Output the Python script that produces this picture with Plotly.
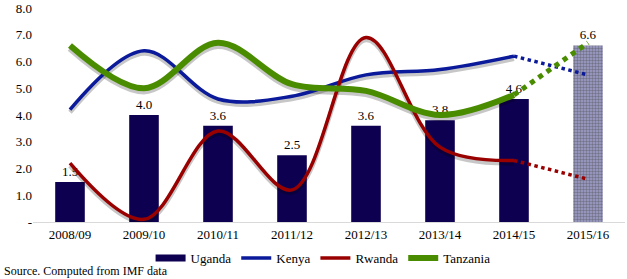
import plotly.graph_objects as go

years = ["2008/09", "2009/10", "2010/11", "2011/12", "2012/13", "2013/14", "2014/15", "2015/16"]
uganda = [1.5, 4.0, 3.6, 2.5, 3.6, 3.8, 4.6, 6.6]
kenya = [4.2, 6.4, 4.6, 4.7, 5.5, 5.7, 6.2, 5.5]
rwanda = [2.2, 0.1, 3.4, 1.2, 6.9, 2.8, 2.3, 1.6]
tanzania = [6.6, 5.0, 6.7, 5.15, 4.9, 4.0, 4.75, 6.7]
ytick_vals = [0, 1, 2, 3, 4, 5, 6, 7, 8]
ytick_text = ["-", "1.0", "2.0", "3.0", "4.0", "5.0", "6.0", "7.0", "8.0"]

navy = "#0d0050"
kcol = "#0a1a9a"
rcol = "#990000"
tcol = "#4a8c00"
font = "Liberation Serif"

fig = go.Figure()
n_solid = 7

fig.add_trace(go.Bar(
    x=years, y=uganda, name="Uganda", showlegend=False,
    marker=dict(
        color=[navy] * 7 + ["#a0a0cc"],
        line=dict(width=0),
        pattern=dict(shape=[""] * 7 + ["."], fgcolor=navy, bgcolor="#b4b4d8", size=3, solidity=0.5),
    ),
    width=0.4,
    text=[f"{v:.1f}" for v in uganda], textposition="outside",
    textfont=dict(family=font, size=13, color="black"),
    cliponaxis=False,
))
# legend entry for Uganda drawn as thick bar-like swatch
fig.add_trace(go.Scatter(x=[years[0]], y=[None], mode="lines", name="Uganda",
                         line=dict(color=navy, width=7)))

series = [("Kenya", kenya, kcol, 3.5), ("Rwanda", rwanda, rcol, 3.5), ("Tanzania", tanzania, tcol, 6)]

# shadows
for name, vals, col, w in series:
    fig.add_trace(go.Scatter(
        x=years[:n_solid], y=[v - 0.1 for v in vals[:n_solid]], mode="lines",
        line=dict(color="rgba(0,0,0,0.22)", width=w + 1, shape="spline", smoothing=1.0),
        showlegend=False, hoverinfo="skip",
    ))

for name, vals, col, w in series:
    fig.add_trace(go.Scatter(
        x=years[:n_solid], y=vals[:n_solid], mode="lines", name=name,
        line=dict(color=col, width=w, shape="spline", smoothing=1.0),
    ))
    fig.add_trace(go.Scatter(
        x=years[n_solid - 1:], y=vals[n_solid - 1:], mode="lines",
        line=dict(color=col, width=w - 1 if w > 4 else w, dash="dot"),
        showlegend=False,
    ))

fig.update_layout(
    width=627, height=279,
    margin=dict(l=33, r=2, t=8, b=57, autoexpand=False),
    plot_bgcolor="white", paper_bgcolor="white",
    font=dict(family=font, size=13, color="black"),
    showlegend=True,
    legend=dict(orientation="h", x=0.49, xanchor="center", y=-0.168, yanchor="middle",
                font=dict(family=font, size=13), itemwidth=30, tracegroupgap=0),
    xaxis=dict(showgrid=False, showline=True, linecolor="#d9d9d9", linewidth=1,
               ticks="", tickfont=dict(family=font, size=13)),
    yaxis=dict(range=[0, 8], tickvals=ytick_vals, ticktext=ytick_text, showgrid=False,
               showline=False, zeroline=False, ticks="", tickfont=dict(family=font, size=13)),
    annotations=[dict(text="Source. Computed from IMF data", xref="paper", yref="paper",
                      x=-31 / 592, y=-0.229, xanchor="left", yanchor="middle", showarrow=False,
                      font=dict(family=font, size=12))],
)

# remove the default 8px page margin so the figure fills the window exactly
fig.write_html("out.html", config={"displayModeBar": False},
               post_script="document.body.style.margin='0px';")
